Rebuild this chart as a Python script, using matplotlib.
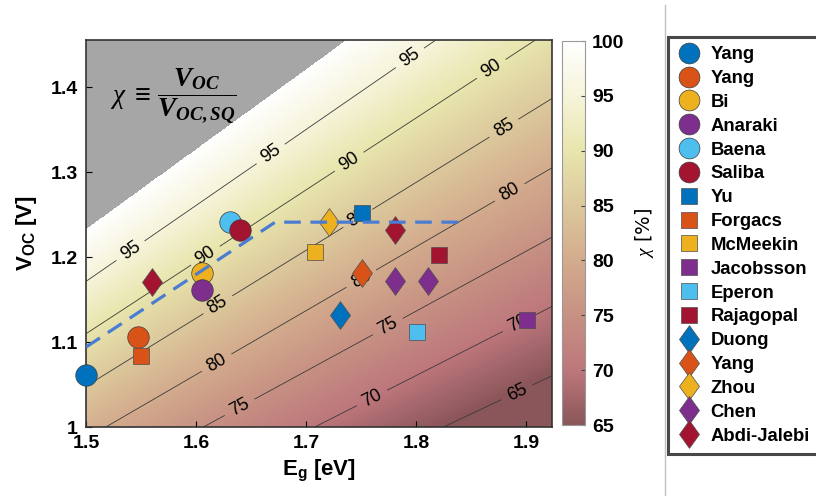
import matplotlib

matplotlib.use("Agg")
import matplotlib.pyplot as plt
import numpy as np
from matplotlib.colors import LinearSegmentedColormap
from matplotlib.lines import Line2D
from matplotlib.path import Path

plt.rcParams.update(
    {
        "font.family": ["Liberation Sans", "DejaVu Sans"],
        "mathtext.fontset": "custom",
        "mathtext.rm": "Liberation Sans:bold",
        "mathtext.it": "Liberation Serif:italic",
        "mathtext.bfit": "Liberation Serif:italic:bold",
    }
)

# Shockley-Queisser open-circuit voltage, taken as linear in the band gap
SQ_SLOPE = 0.94
SQ_OFFSET = -0.177

circle_labels = ["Yang", "Yang", "Bi", "Anaraki", "Baena", "Saliba"]
circle_eg = [1.500, 1.547, 1.605, 1.605, 1.631, 1.640]
circle_voc = [1.061, 1.106, 1.181, 1.161, 1.241, 1.232]

square_labels = ["Yu", "Forgacs", "McMeekin", "Jacobsson", "Eperon", "Rajagopal"]
square_eg = [1.751, 1.550, 1.708, 1.901, 1.801, 1.821]
square_voc = [1.252, 1.084, 1.206, 1.126, 1.112, 1.202]

diamond_labels = ["Duong", "Yang", "Zhou", "Chen", "Abdi-Jalebi"]
diamond_eg = [[1.731], [1.751], [1.721], [1.781, 1.811], [1.781, 1.560]]
diamond_voc = [[1.132], [1.181], [1.241], [1.172, 1.172], [1.232, 1.171]]

# dashed trend line
trend_eg = [1.50, 1.672, 1.84]
trend_voc = [1.094, 1.241, 1.241]

chi_levels = [65, 70, 75, 80, 85, 90, 95]

palette = ["#0072BD", "#D95319", "#EDB120", "#7E2F8E", "#4DBEEE", "#A2142F"]
diamond_colors = ["#0072BD", "#D95319", "#EDB120", "#7E2F8E", "#A2142F"]

cmap = LinearSegmentedColormap.from_list(
    "chi",
    [
        (0.0, "#8a5659"),
        (1 / 7, "#bd777c"),
        (2 / 7, "#c79183"),
        (3 / 7, "#d3ab8d"),
        (4 / 7, "#dcc89c"),
        (5 / 7, "#e8e5ad"),
        (6 / 7, "#f6f4d9"),
        (1.0, "#ffffff"),
    ],
)
cmap.set_over("#a6a6a6")

diamond = Path([(0, 1), (0.72, 0), (0, -1), (-0.72, 0), (0, 1)],
               [Path.MOVETO, Path.LINETO, Path.LINETO, Path.LINETO, Path.CLOSEPOLY])

fig = plt.figure(figsize=(8.16, 4.96), dpi=100)
ax = fig.add_axes([86 / 816, 1 - 427 / 496, 466 / 816, 387 / 496])
cax = fig.add_axes([562 / 816, 1 - 425 / 496, 23 / 816, 384 / 496])

xlim = (1.5, 1.9236)
ylim = (1.0, 1.4553)
E, V = np.meshgrid(np.linspace(*xlim, 900), np.linspace(*ylim, 900))
chi = 100 * V / (SQ_SLOPE * E + SQ_OFFSET)

img = ax.imshow(chi, extent=[*xlim, *ylim], origin="lower", aspect="auto",
                cmap=cmap, vmin=65, vmax=100, interpolation="nearest", zorder=0)
cs = ax.contour(E, V, chi, levels=chi_levels, colors="#3a3a3a", linewidths=0.6, zorder=1)


def px(x, y):
    return 1.5 + (x - 86) / 1100, 1 + (427 - y) / 850


label_spots = [
    px(130, 250), px(270, 153), px(410, 58),
    px(207, 258), px(350, 163), px(492, 70),
    px(218, 305), px(360, 222), px(505, 130),
    px(218, 365), px(362, 280), px(510, 193),
    px(240, 408), px(388, 327),
    px(372, 398), px(517, 322),
    px(518, 395),
]
ax.clabel(cs, manual=label_spots, fmt="%d", fontsize=13, colors="black",
          inline=True, inline_spacing=7)

handles = []
for lab, x, y, c in zip(circle_labels, circle_eg, circle_voc, palette):
    ax.plot(x, y, "o", ms=15.5, mfc=c, mec="#3d3d3d", mew=0.5, clip_on=False, zorder=3)
    handles.append(Line2D([], [], marker="o", ls="none", ms=15, mfc=c, mec="#3d3d3d", mew=0.5, label=lab))
for lab, x, y, c in zip(square_labels, square_eg, square_voc, palette):
    ax.plot(x, y, "s", ms=12, mfc=c, mec="#4d4d4d", mew=0.5, clip_on=False, zorder=3)
    handles.append(Line2D([], [], marker="s", ls="none", ms=12, mfc=c, mec="#4d4d4d", mew=0.5, label=lab))
for lab, xs, ys, c in zip(diamond_labels, diamond_eg, diamond_voc, diamond_colors):
    ax.plot(xs, ys, marker=diamond, ls="none", ms=20, mfc=c, mec="#4d4d4d", mew=0.5, clip_on=False, zorder=3)
    handles.append(Line2D([], [], marker=diamond, ls="none", ms=20, mfc=c, mec="#4d4d4d", mew=0.5, label=lab))

ax.plot(trend_eg, trend_voc, color="#4a7dd2", lw=2.3, ls=(0, (5.2, 3.0)), zorder=4)

ax.set_xlim(xlim)
ax.set_ylim(ylim)
ax.set_xticks([1.5, 1.6, 1.7, 1.8, 1.9])
ax.set_yticks([1.0, 1.1, 1.2, 1.3, 1.4])
ax.set_yticklabels(["1", "1.1", "1.2", "1.3", "1.4"])
ax.tick_params(direction="in", length=4, width=0.8, labelsize=14, pad=6)
for t in ax.get_xticklabels() + ax.get_yticklabels():
    t.set_fontweight("bold")
for s in ax.spines.values():
    s.set_linewidth(1.2)
    s.set_color("#333333")
ax.set_xlabel(r"E$_{\mathrm{g}}$ [eV]", fontsize=16, fontweight="bold", labelpad=4)
ax.set_ylabel(r"V$_{\mathrm{OC}}$ [V]", fontsize=16, fontweight="bold", labelpad=8)

ax.text(0.052, 0.855,
        r"$\chi\ \equiv\,\dfrac{\mathbfit{V}_{\mathbfit{OC}}}{\mathbfit{V}_{\mathbfit{OC,SQ}}}$",
        transform=ax.transAxes, fontsize=19.5, ha="left", va="center", zorder=5)

cb = fig.colorbar(img, cax=cax, ticks=range(65, 101, 5), extend="neither")
cb.outline.set_edgecolor("#999999")
cb.outline.set_linewidth(0.8)
cax.tick_params(direction="in", length=3, width=0.8, color="#444444", labelsize=14, pad=5)
for t in cax.get_yticklabels():
    t.set_fontweight("bold")
cb.set_label(r"$\chi$ [%]", fontsize=14, rotation=90, labelpad=6,
             family=["DejaVu Sans"])

fig.add_artist(Line2D([665 / 816, 665 / 816], [0, 1 - 5 / 496], color="#c0c0c0", lw=1))

leg = fig.legend(handles=handles, loc="upper left", bbox_to_anchor=(668 / 816, 1 - 37 / 496),
                 prop={"weight": "bold", "size": 13.3}, frameon=True, fancybox=False,
                 handlelength=1.3, handletextpad=0.5, labelspacing=0.37, borderpad=0.5,
                 borderaxespad=0)
leg.get_frame().set_edgecolor("#1a1a1a")
leg.get_frame().set_linewidth(2.2)

fig.savefig("out.png", dpi=100)
